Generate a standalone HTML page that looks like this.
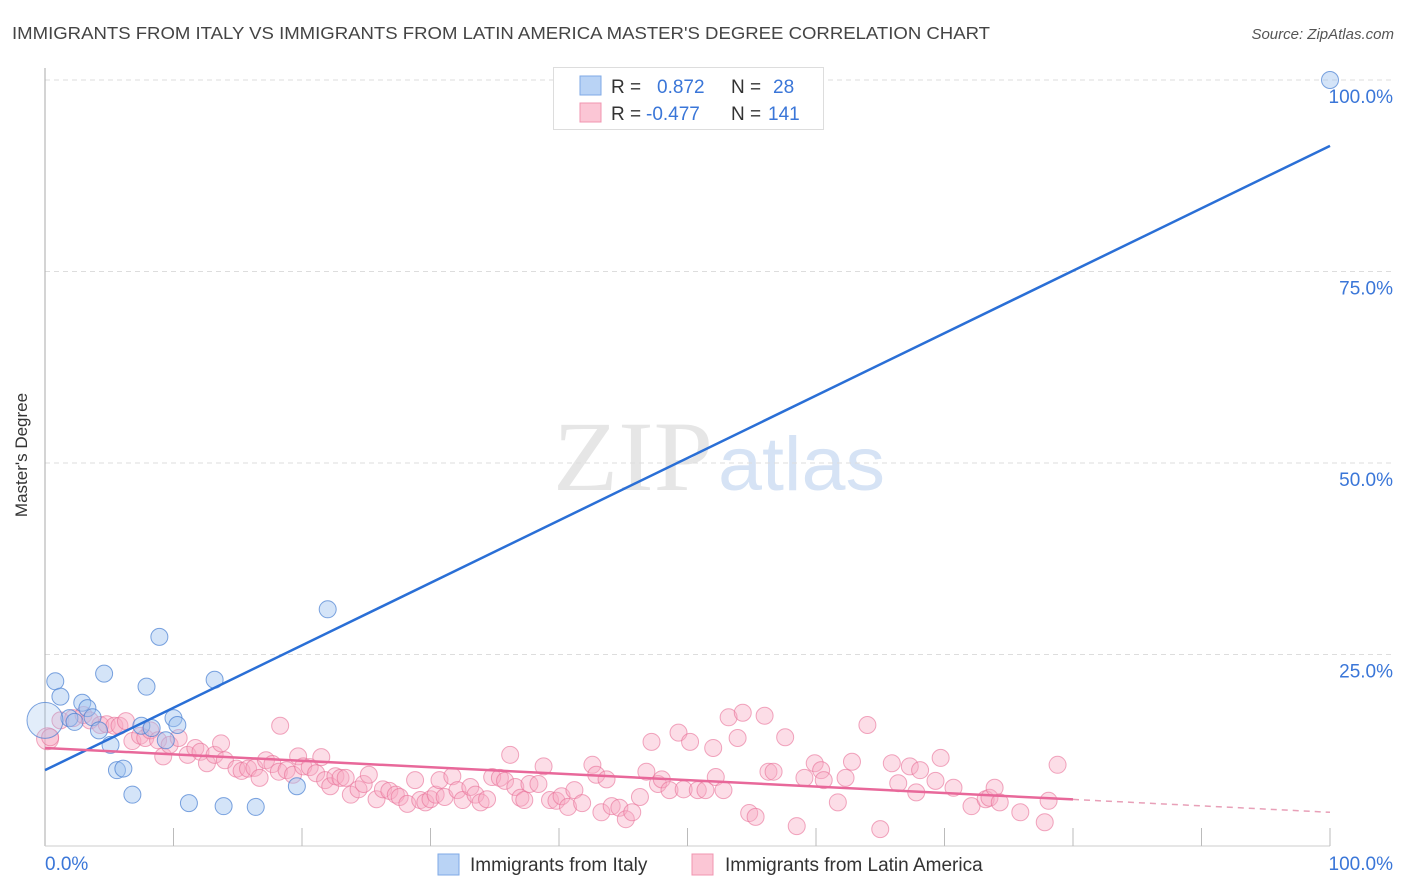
<!DOCTYPE html>
<html><head><meta charset="utf-8"><style>
body{margin:0;background:#fff;font-family:"Liberation Sans",sans-serif}
svg{display:block}
</style></head><body>
<svg width="1406" height="892">
<text x="12" y="39" font-size="17.5" fill="#444" textLength="978" lengthAdjust="spacingAndGlyphs">IMMIGRANTS FROM ITALY VS IMMIGRANTS FROM LATIN AMERICA MASTER'S DEGREE CORRELATION CHART</text>
<text x="1394" y="39" font-size="15" fill="#555" text-anchor="end" font-style="italic">Source: ZipAtlas.com</text>
<g>
<text x="553" y="490" font-size="100" fill="#e6e6e6" font-family="Liberation Serif,serif" textLength="160" lengthAdjust="spacingAndGlyphs">ZIP</text>
<text x="718" y="490" font-size="76" fill="#d6e3f5" textLength="167" lengthAdjust="spacingAndGlyphs">atlas</text></g>
<g id="grid"></g><g id="axes"></g><g id="pts"></g><g id="lines"></g>
<text x="27" y="455" font-size="17" fill="#333" text-anchor="middle" transform="rotate(-90 27 455)">Master's Degree</text>
<g>
<rect x="553.5" y="67.5" width="270" height="62" fill="#fff" stroke="#ddd"/>
<rect x="580" y="76" width="21" height="19" fill="#b9d3f5" stroke="#7fa9e6"/>
<rect x="580" y="103" width="21" height="19" fill="#fbc6d5" stroke="#f095b0"/>
<text x="611" y="93" font-size="19" fill="#333">R = <tspan x="657" fill="#3a76d8">0.872</tspan><tspan x="731">N = </tspan><tspan x="773" fill="#3a76d8">28</tspan></text>
<text x="611" y="120" font-size="19" fill="#333">R = <tspan x="646" fill="#3a76d8">-0.477</tspan><tspan x="731">N = </tspan><tspan x="768" fill="#3a76d8">141</tspan></text>
</g>
<g>
<rect x="438" y="854" width="21" height="21" fill="#b9d3f5" stroke="#7fa9e6"/>
<text x="470" y="871" font-size="19" fill="#333">Immigrants from Italy</text>
<rect x="692" y="854" width="21" height="21" fill="#fbc6d5" stroke="#f095b0"/>
<text x="725" y="871" font-size="19" fill="#333">Immigrants from Latin America</text>
</g>
</svg>
<script>
const yTicks=[25,50,75,100];
const yTickLabels=["25.0%","50.0%","75.0%","100.0%"];
const xTickLabels=["0.0%","100.0%"];
const italyX=[0.8,1.2,1.9,2.3,2.9,3.3,3.7,4.2,4.6,5.1,5.6,6.1,6.8,7.5,7.9,8.3,8.9,9.4,10.0,10.3,11.2,13.2,13.9,16.4,19.6,22.0,100,0];
const italyY=[21.5,19.5,16.7,16.2,18.7,18.0,16.8,15.1,22.5,13.2,9.9,10.1,6.7,15.7,20.8,15.4,27.3,13.8,16.7,15.8,5.6,21.7,5.2,5.1,7.8,30.9,100,16.4];
const latamX=[0.2,0.4,1.2,2.2,3.0,3.5,4.3,4.8,5.4,5.8,6.3,6.8,7.4,7.8,8.2,8.8,9.2,9.7,10.4,11.1,11.7,12.1,12.6,13.2,13.7,14.0,14.9,15.3,15.8,16.3,16.7,17.2,17.7,18.2,18.3,18.8,19.3,19.7,20.1,20.6,21.1,21.5,21.8,22.2,22.6,23.0,23.4,23.8,24.4,24.8,25.2,25.8,26.3,26.8,27.3,27.6,28.2,28.8,29.2,29.6,30.0,30.4,30.7,31.1,31.7,32.1,32.5,33.1,33.5,33.9,34.4,34.8,35.4,35.8,36.2,36.6,37.0,37.3,37.7,38.4,38.8,39.3,39.8,40.2,40.7,41.2,41.8,42.6,42.9,43.3,43.7,44.1,44.7,45.2,45.7,46.3,46.8,47.2,47.7,48.0,48.6,49.3,49.7,50.2,50.8,51.4,52.0,52.2,52.8,53.2,53.9,54.3,54.8,55.3,56.0,56.3,56.7,57.6,58.5,59.1,59.9,60.4,60.6,61.7,62.3,62.8,64.0,65.0,65.9,66.4,67.3,67.8,68.1,69.3,69.7,70.7,72.1,73.2,73.5,73.9,74.3,75.9,77.8,78.1,78.8];
const latamY=[14.0,14.2,16.4,16.7,17.1,16.4,15.8,15.9,15.7,15.7,16.3,13.7,14.4,14.1,15.1,13.8,11.7,13.2,14.1,11.9,12.8,12.3,10.8,11.9,13.4,11.2,10.1,9.8,10.1,10.2,8.9,11.2,10.7,9.7,15.7,9.9,9.3,11.7,10.4,10.3,9.5,11.6,8.6,7.8,9.1,8.9,8.9,6.7,7.4,8.1,9.3,6.1,7.4,7.2,6.7,6.4,5.5,8.6,6.0,5.7,6.1,6.7,8.6,6.4,9.1,7.3,6.0,7.7,6.7,5.7,6.1,9.0,8.9,8.5,11.9,7.7,6.3,6.0,8.1,8.1,10.4,6.0,5.9,6.5,5.1,7.3,5.6,10.6,9.3,4.4,8.7,5.2,5.0,3.5,4.4,6.4,9.7,13.6,8.1,8.7,7.3,14.8,7.4,13.6,7.3,7.3,12.8,9.0,7.3,16.8,14.1,17.4,4.3,3.8,17.0,9.7,9.7,14.2,2.6,8.9,10.8,9.9,8.6,5.7,8.9,11.0,15.8,2.2,10.8,8.2,10.4,7.0,9.9,8.5,11.5,7.6,5.2,6.1,6.3,7.6,5.7,4.4,3.1,5.9,10.6];
const italyTrend=[9.9,91.4];
const latamTrend=[12.8,4.4];
const latamSolidEnd=80;
const NS="http://www.w3.org/2000/svg";
const X=v=>45+v*12.85, Y=v=>846-v*7.66;
function mk(p,t,a){const e=document.createElementNS(NS,t);for(const k in a)e.setAttribute(k,a[k]);document.getElementById(p).appendChild(e);return e;}
yTicks.forEach((t,i)=>{
 const g=mk('grid','line',{x1:45,x2:1395,y1:Y(t),y2:Y(t),stroke:'#ddd','stroke-dasharray':'5,4'});
 
 
 const l=mk('grid','text',{x:1393,y:Y(t)+23,'font-size':19,fill:'#3a76d8','text-anchor':'end'});
 l.textContent=yTickLabels[i];
 
 
});
const ya=mk('axes','line',{x1:45,x2:45,y1:68,y2:846,stroke:'#aaa'});


const xa=mk('axes','line',{x1:45,x2:1330,y1:846,y2:846,stroke:'#ccc'});


for(let i=1;i<=10;i++){const t=mk('axes','line',{x1:X(i*10),x2:X(i*10),y1:828,y2:846,stroke:'#bbb'});
 
 }
[[0,'start',45],[1,'end',1393]].forEach(([i,a,x])=>{const t=mk('axes','text',{x:x,y:870,'font-size':19,fill:'#3a76d8','text-anchor':a});t.textContent=xTickLabels[i];
 
 });
latamX.forEach((v,i)=>{const c=mk('pts','circle',{cx:X(v),cy:Y(latamY[i]),r:i==0?11:8.5,fill:'rgba(248,170,195,0.4)',stroke:'rgba(232,110,150,0.6)','stroke-width':1});
 
 });
italyX.forEach((v,i)=>{const c=mk('pts','circle',{cx:X(v),cy:Y(italyY[i]),r:i==italyX.length-1?18:8.5,fill:i==italyX.length-1?'rgba(160,195,240,0.3)':'rgba(160,195,240,0.45)',stroke:'rgba(70,125,210,0.7)','stroke-width':1});
 
 });
const bl=mk('lines','line',{x1:X(0),y1:Y(italyTrend[0]),x2:X(100),y2:Y(italyTrend[1]),stroke:'#2a6fd6','stroke-width':2.5});


const ly=x=>latamTrend[0]+(latamTrend[1]-latamTrend[0])*x/100;
const pl=mk('lines','line',{x1:X(0),y1:Y(ly(0)),x2:X(latamSolidEnd),y2:Y(ly(latamSolidEnd)),stroke:'#e8689a','stroke-width':2.5});


const pd=mk('lines','line',{x1:X(latamSolidEnd),y1:Y(ly(latamSolidEnd)),x2:X(100),y2:Y(ly(100)),stroke:'#e8a0b8','stroke-width':1.5,'stroke-dasharray':'6,5'});


</script>
</body></html>
